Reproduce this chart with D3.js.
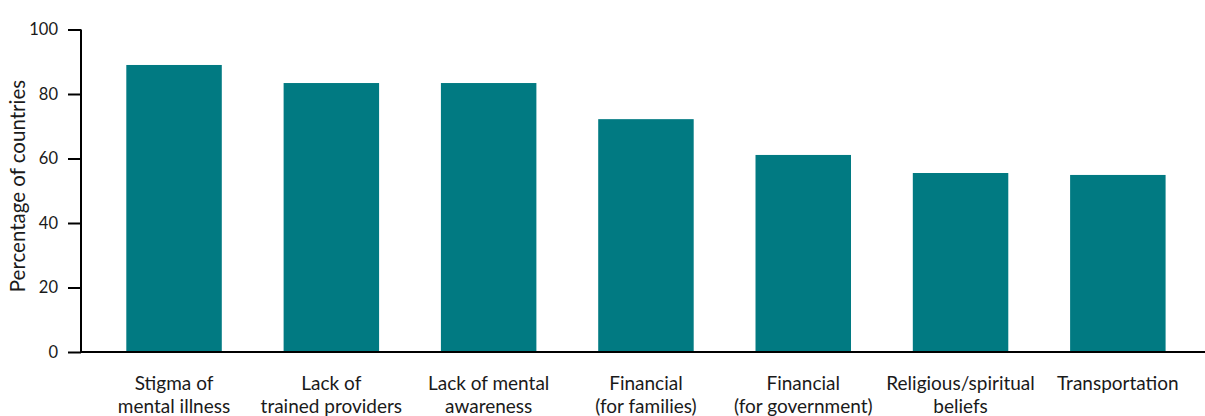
<!DOCTYPE html>
<html>
<head>
<meta charset="utf-8">
<script src="https://cdn.jsdelivr.net/npm/d3@7"></script>
<style>
  html, body { margin: 0; padding: 0; background: #fff; }
  svg { display: block; }
  text { font-family: "Lato", "Open Sans", sans-serif; fill: #1a1a1a; }
</style>
</head>
<body>
<svg id="chart" width="1205" height="416"></svg>
<script>
// Barriers to mental health care: share of countries reporting each barrier
const categories = [
  ["Stigma of", "mental illness"],
  ["Lack of", "trained providers"],
  ["Lack of mental", "awareness"],
  ["Financial", "(for families)"],
  ["Financial", "(for government)"],
  ["Religious/spiritual", "beliefs"],
  ["Transportation"]
];
const values = [89, 83.4, 83.4, 72.2, 61.1, 55.5, 54.9];
const yTicks = [0, 20, 40, 60, 80, 100];
const yTitle = "Percentage of countries";

const svg = d3.select("#chart");
const W = 1205;
const axisX = 81, axisY = 352, topY = 29.5;
const barColor = "#017a82";

const keys = categories.map(c => c.join(" "));

const x = d3.scaleBand()
  .domain(keys)
  .range([95.4, 1196.5])
  .paddingInner(0.393)
  .paddingOuter(0.1965);

const y = d3.scaleLinear().domain([0, 100]).range([axisY, topY]);

// bars
svg.append("g").selectAll("rect")
  .data(values)
  .join("rect")
  .attr("x", (d, i) => x(keys[i]))
  .attr("width", x.bandwidth())
  .attr("y", d => y(d))
  .attr("height", d => y(0) - y(d))
  .attr("fill", barColor);

// y axis
const yAxis = svg.append("g")
  .attr("transform", `translate(${axisX},0)`)
  .call(d3.axisLeft(y).tickValues(yTicks).tickSize(13).tickPadding(10).tickFormat(d3.format("d")));
yAxis.select(".domain").attr("d", `M0,${topY}V${axisY}`).attr("stroke", "#000").attr("stroke-width", 2);
yAxis.selectAll(".tick line").attr("stroke", "#000").attr("stroke-width", 2);
yAxis.selectAll(".tick text").attr("font-size", 16.5).attr("fill", "#1a1a1a")
  .style("font-family", "Lato, 'Open Sans', sans-serif");

// x axis baseline
svg.append("line")
  .attr("x1", axisX - 1).attr("x2", W)
  .attr("y1", axisY).attr("y2", axisY)
  .attr("stroke", "#000").attr("stroke-width", 2);

// category labels
const lab = svg.append("g").selectAll("text")
  .data(categories)
  .join("text")
  .attr("text-anchor", "middle")
  .attr("font-size", 19)
  .attr("x", (d, i) => x(keys[i]) + x.bandwidth() / 2)
  .attr("y", 389.5);
lab.selectAll("tspan")
  .data(d => d)
  .join("tspan")
  .attr("x", function () { return this.parentNode.getAttribute("x"); })
  .attr("dy", (d, i) => i === 0 ? 0 : 23.5)
  .text(d => d);

// y axis title
svg.append("text")
  .attr("transform", `translate(25,186) rotate(-90)`)
  .attr("text-anchor", "middle")
  .attr("font-size", 20.5)
  .text(yTitle);
</script>
</body>
</html>
